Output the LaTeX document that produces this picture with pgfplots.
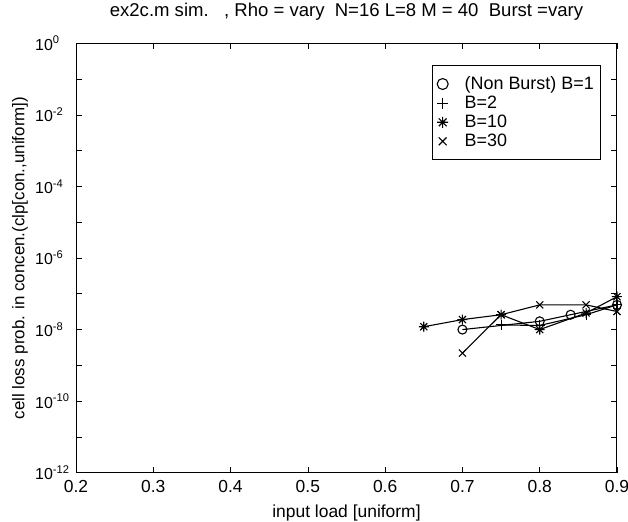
\documentclass[border=0pt]{standalone}
\usepackage{fontspec}
\setmainfont{Liberation Sans}
\usepackage{pgfplots}
\pgfplotsset{compat=1.18}
\pgfdeclareplotmark{mstar}{%
  \pgfpathmoveto{\pgfqpoint{\pgfplotmarksize}{0pt}}%
  \pgfpathlineto{\pgfqpoint{-\pgfplotmarksize}{0pt}}%
  \pgfpathmoveto{\pgfqpoint{0pt}{\pgfplotmarksize}}%
  \pgfpathlineto{\pgfqpoint{0pt}{-\pgfplotmarksize}}%
  \pgfpathmoveto{\pgfqpoint{0.707\pgfplotmarksize}{0.707\pgfplotmarksize}}%
  \pgfpathlineto{\pgfqpoint{-0.707\pgfplotmarksize}{-0.707\pgfplotmarksize}}%
  \pgfpathmoveto{\pgfqpoint{-0.707\pgfplotmarksize}{0.707\pgfplotmarksize}}%
  \pgfpathlineto{\pgfqpoint{0.707\pgfplotmarksize}{-0.707\pgfplotmarksize}}%
  \pgfusepathqstroke}
\begin{document}
\begin{tikzpicture}
\begin{axis}[
  scale only axis,
  width=541bp, height=429.4bp,
  xmin=0.2, xmax=0.9,
  ymode=log, ymin=1e-12, ymax=1,
  xtick={0.2,0.3,0.4,0.5,0.6,0.7,0.8,0.9},
  xticklabels={0.2,0.3,0.4,0.5,0.6,0.7,0.8,0.9},
  ytick={1,1e-2,1e-4,1e-6,1e-8,1e-10,1e-12},
  yticklabels={10\textsuperscript{0},10\textsuperscript{-2},10\textsuperscript{-4},10\textsuperscript{-6},10\textsuperscript{-8},10\textsuperscript{-10},10\textsuperscript{-12}},
  minor ytick={1e-1,1e-3,1e-5,1e-7,1e-9,1e-11},
  tick align=inside,
  major tick length=6bp, minor tick length=6bp,
  tick style={black, line width=0.7pt},
  axis line style={line width=1pt},
  xticklabel style={font=\fontsize{17.5}{19}\selectfont, yshift=-4bp},
  yticklabel style={font=\fontsize{16}{18}\selectfont, anchor=west, inner xsep=0pt, xshift=-41bp},
  xlabel={input load [uniform]},
  ylabel={cell loss prob. in concen.(clp[con.,uniform])},
  title={ex2c.m sim.\ \ \ , Rho = vary\ \ N=16 L=8 M = 40\ \ Burst =vary},
  title style={font=\fontsize{18.6}{21}\selectfont, at={(rel axis cs:0.5,1)}, anchor=center, yshift=26bp},
  xlabel style={font=\fontsize{17.5}{19}\selectfont, at={(rel axis cs:0.5,0)}, anchor=center, yshift=-40bp},
  ylabel style={font=\fontsize{17}{19}\selectfont, at={(rel axis cs:0,0.5)}, anchor=center, yshift=56bp},
  legend style={at={(0.970,0.950)}, anchor=north east, draw=black, line width=1pt,
    font=\fontsize{18}{19}\selectfont, row sep=2bp, inner xsep=5bp, inner ysep=10bp,
    nodes={inner sep=1.5bp},
    /tikz/every odd column/.append style={column sep=15bp}},
  legend cell align=left,
  legend image code/.code={\draw[#1,only marks,mark size=5.5bp] plot coordinates {(0cm,0cm)};},
  every axis plot/.append style={black, line width=1.1pt, mark size=5bp},
]
\addplot[mark=o, mark size=4.5bp] coordinates {(0.7,1.0e-8) (0.8,1.7e-8) (0.84,2.6e-8) (0.9,4.9e-8)};
\addlegendentry{(Non Burst) B=1}
\addplot[mark=+] coordinates {(0.75,1.35e-8) (0.8,1.3e-8) (0.86,2.6e-8) (0.9,4.9e-8)};
\addlegendentry{B=2}
\addplot[mark=mstar] coordinates {(0.65,1.2e-8) (0.7,1.9e-8) (0.75,2.6e-8) (0.8,1.0e-8) (0.86,2.9e-8) (0.9,8.3e-8)};
\addlegendentry{B=10}
\addplot[mark=x] coordinates {(0.7,2.2e-9) (0.75,2.6e-8) (0.8,4.9e-8) (0.86,4.9e-8) (0.9,3.2e-8)};
\addlegendentry{B=30}
\end{axis}
\pgfresetboundingbox
\path[use as bounding box] (-76bp,-49.3bp) rectangle (552bp,472.7bp);
\end{tikzpicture}
\end{document}
